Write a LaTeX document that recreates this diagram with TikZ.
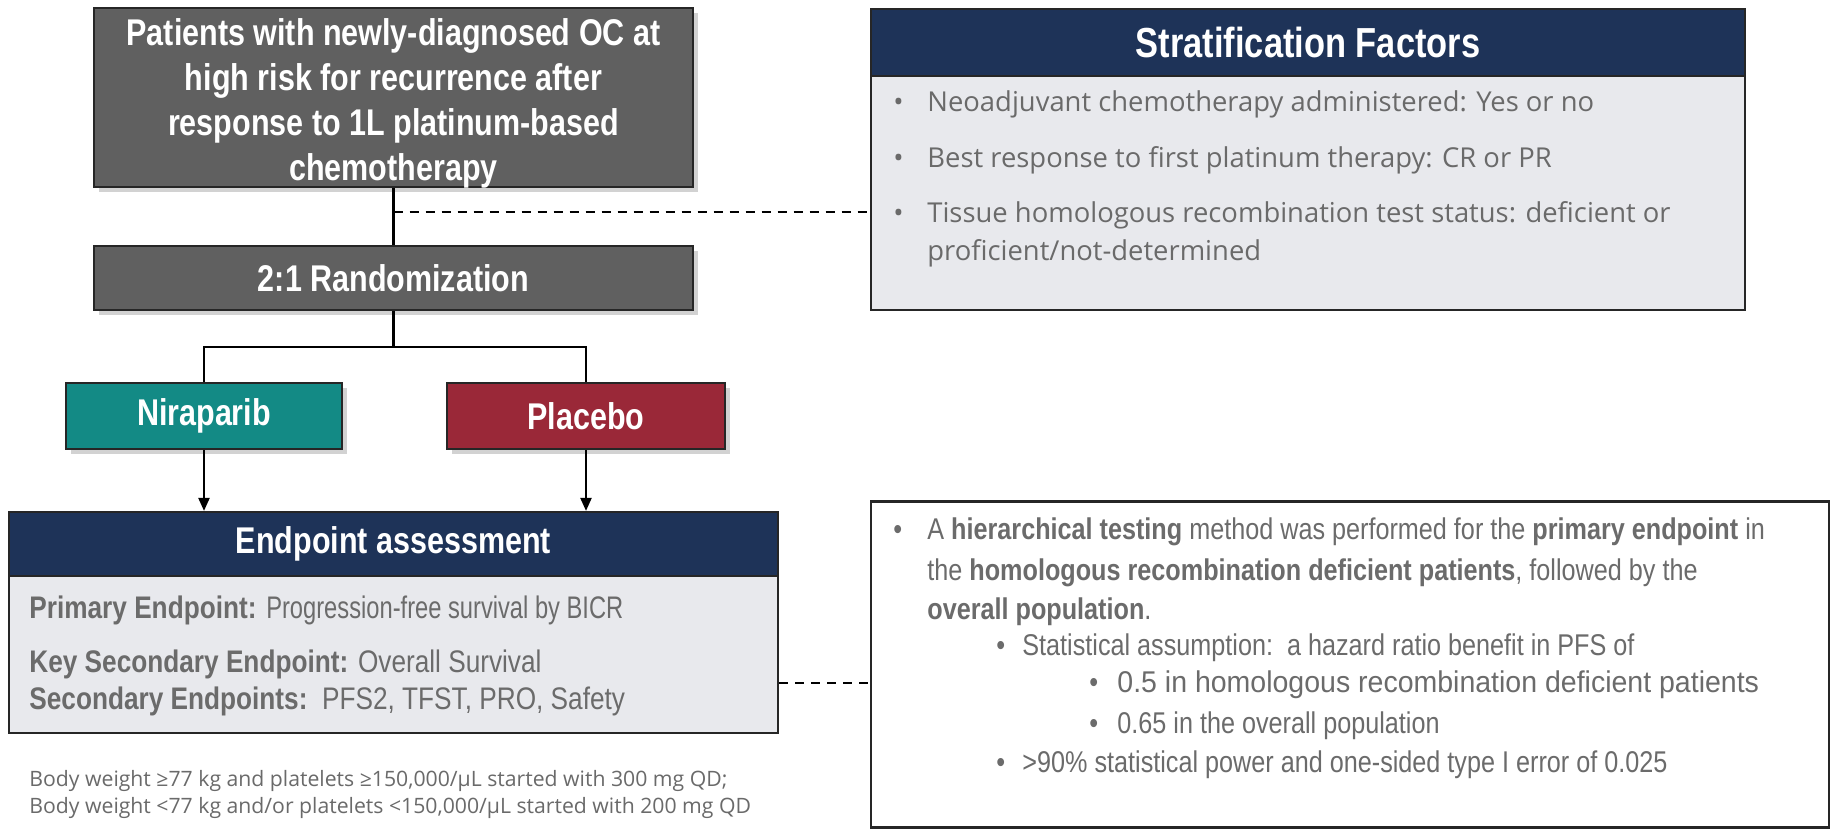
\documentclass[tikz,border=0pt]{standalone}
\usepackage{fontspec}
\setmainfont{Open Sans}
\newfontfamily\nar{Liberation Sans}[FakeStretch=0.82]
\newfontfamily\narb{Liberation Sans}[FakeStretch=0.84]
\newfontfamily\narc{Liberation Sans}[FakeStretch=0.76]
\newfontfamily\narw{Liberation Sans}[FakeStretch=0.95]
\usetikzlibrary{arrows.meta,shadows}
\definecolor{boxgrey}{HTML}{606060}
\definecolor{teal}{HTML}{138A85}
\definecolor{wine}{HTML}{9A2838}
\definecolor{navy}{HTML}{1E3358}
\definecolor{paleg}{HTML}{E8E9ED}
\definecolor{txtg}{HTML}{6B6B6B}
\definecolor{osg}{HTML}{6A6A6A}
\tikzset{
  shad/.style={drop shadow={opacity=0.35,shadow xshift=2.5pt,shadow yshift=-2.5pt}},
  hbox/.style={draw=black!85,line width=1.1pt,text=white,align=center,inner sep=0pt,
     font=\nar\bfseries\fontsize{18.6}{22.5}\selectfont},
  bodybox/.style={draw=black!85,line width=1.1pt,fill=paleg,inner sep=0pt},
  link/.style={line width=1.1pt,draw=black},
  dashlink/.style={line width=1.1pt,draw=black,dash pattern=on 4.5pt off 3.5pt},
  arr/.style={link,-{Triangle[length=6.5pt,width=5.5pt]}},
  ntxt/.style={anchor=base west,inner sep=0pt,text=txtg,font=\narb\fontsize{15}{18}\selectfont},
  etxt/.style={anchor=base west,inner sep=0pt,text=txtg,font=\narb\fontsize{15.6}{18}\selectfont},
  otxt/.style={anchor=base west,inner sep=0pt,text=osg,font=\fontsize{13.7}{16}\selectfont},
  notetxt/.style={anchor=base west,inner sep=0pt,text=osg,font=\fontsize{10.6}{13}\selectfont},
}
\begin{document}
\begin{tikzpicture}[x=0.5pt,y=-0.5pt]
\useasboundingbox (0,0) rectangle (1836,831);
\fill[white] (0,0) rectangle (1836,831);

% left flow
\node[hbox,shad,fill=boxgrey,minimum width=299.5pt,minimum height=89.5pt] (pat) at (393.5,97.5) {};
\node[text=white,align=center,inner sep=0pt,font=\nar\bfseries\fontsize{18.6}{22.5}\selectfont] (pattxt) at (393.5,103.5)
  {Patients with newly-diagnosed OC at\\ high risk for recurrence after\\ response to 1L platinum-based\\ chemotherapy};
\node[hbox,shad,fill=boxgrey,minimum width=299.5pt,minimum height=32pt] (rand) at (393.5,278) {2:1 Randomization};
\node[hbox,shad,fill=teal,minimum width=138pt,minimum height=33pt] (nira) at (204,416) {Niraparib};
\node[hbox,shad,fill=wine,minimum width=139pt,minimum height=33pt] (plac) at (586,416) {Placebo};

\node[hbox,fill=navy,minimum width=384.5pt,minimum height=32pt] (ephead) at (393.5,544) {Endpoint assessment};
\node[bodybox,minimum width=384.5pt,minimum height=78.5pt] (epbody) at (393.5,654.5) {};

% stratification
\node[hbox,fill=navy,minimum width=437pt,minimum height=33.5pt,font=\nar\bfseries\fontsize{21}{24}\selectfont] (sthead) at (1308,42.5) {Stratification Factors};
\node[bodybox,minimum width=437pt,minimum height=117pt] (stbody) at (1308,193) {};

% right bottom box
\node[draw=black!85,line width=1.1pt,fill=white,minimum width=479pt,minimum height=163pt,inner sep=0pt] (hier) at (1350,664.5) {};

% connectors
\draw[link] (pat.south) -- (rand.north);
\coordinate (j1) at (393.5,212);
\draw[dashlink] (j1) -- (j1 -| stbody.west);
\coordinate (j2) at (393.5,347);
\draw[link] (rand.south) -- (j2);
\draw[link] (nira.north) |- (j2) -| (plac.north);
\draw[arr] (nira.south) -- (nira.south |- ephead.north);
\draw[arr] (plac.south) -- (plac.south |- ephead.north);
\coordinate (j3) at (778,683);
\draw[dashlink] (epbody.east |- j3) -- (j3 -| hier.west);

% stratification text
\node[otxt] (sb1) at (893,111) {•};
\node[otxt] (st1) at (927,111) {Neoadjuvant chemotherapy administered: Yes or no};
\node[otxt] (sb2) at (893,167) {•};
\node[otxt] (st2) at (927,167) {Best response to first platinum therapy: CR or PR};
\node[otxt] (sb3) at (893,222) {•};
\node[otxt] (st3) at (927,222) {Tissue homologous recombination test status: deficient or};
\node[otxt] (st4) at (927,260) {proficient/not-determined};

% endpoint text
\node[etxt] (e1) at (29,618) {\textbf{Primary Endpoint:} {\narc Progression-free survival by BICR}};
\node[etxt] (e2) at (29,672) {\textbf{Key Secondary Endpoint:} Overall Survival};
\node[etxt] (e3) at (29,709) {\textbf{Secondary Endpoints:}\ \ PFS2, TFST, PRO, Safety};

% notes
\node[notetxt] (n1) at (29,786) {Body weight ≥77 kg and platelets ≥150,000/µL started with 300 mg QD;};
\node[notetxt] (n2) at (29,813) {Body weight <77 kg and/or platelets <150,000/µL started with 200 mg QD};

% hierarchical text
\node[ntxt] (hb1) at (893,539) {•};
\node[ntxt] (h1) at (927,539) {A \textbf{hierarchical testing} method was performed for the \textbf{primary endpoint} in};
\node[ntxt] (h2) at (927,580) {the \textbf{homologous recombination deficient patients}, followed by the};
\node[ntxt] (h3) at (927,619) {\textbf{overall population}.};
\node[ntxt] (hb4) at (996,655) {•};
\node[ntxt] (h4) at (1022,655) {Statistical assumption:\ \ a hazard ratio benefit in PFS of};
\node[ntxt] (hb5) at (1089,692) {•};
\node[ntxt,font=\narw\fontsize{15}{18}\selectfont] (h5) at (1117,692) {0.5 in homologous recombination deficient patients};
\node[ntxt] (hb6) at (1089,733) {•};
\node[ntxt] (h6) at (1117,733) {0.65 in the overall population};
\node[ntxt] (hb7) at (996,772) {•};
\node[ntxt] (h7) at (1022,772) {>90\% statistical power and one-sided type I error of 0.025};
\end{tikzpicture}
\end{document}
